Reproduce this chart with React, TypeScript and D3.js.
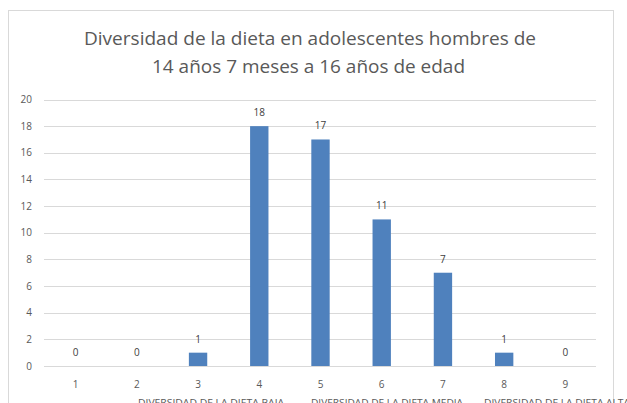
import React from "react";
import * as d3 from "d3";

const categories = ["1", "2", "3", "4", "5", "6", "7", "8", "9"];
const values = [0, 0, 1, 18, 17, 11, 7, 1, 0];
const yTicks = [0, 2, 4, 6, 8, 10, 12, 14, 16, 18, 20];
const groupLabels = [
  "DIVERSIDAD DE LA DIETA BAJA",
  "DIVERSIDAD DE LA DIETA MEDIA",
  "DIVERSIDAD DE LA DIETA ALTA",
];
const titleLines = [
  "Diversidad de la dieta en adolescentes hombres de",
  "14 años 7 meses a 16 años de edad",
];

const W = 627;
const H = 403;
const plot = { left: 45, right: 596, top: 99.5, bottom: 366 };

export default function App() {
  const x = d3
    .scaleBand<string>()
    .domain(categories)
    .range([plot.left, plot.right])
    .paddingInner(0.7)
    .paddingOuter(0.35);
  const y = d3.scaleLinear().domain([0, 20]).range([plot.bottom, plot.top]);
  const step = x.step();
  const center = (c: string) => (x(c) as number) + x.bandwidth() / 2;
  const groupX = d3.scaleLinear().domain([0, 1]).range([138, 311]);
  const font = "Open Sans, 'Noto Sans', sans-serif";
  const txt = "#595959";

  return (
    <svg
      width={W}
      height={H}
      style={{ position: "absolute", left: 0, top: 0, background: "#fff" }}
      fontFamily={font}
    >
      <rect x={0} y={0} width={W} height={H} fill="#fff" />
      <rect x={8.5} y={10.5} width={605} height={400} fill="none" stroke="#d9d9d9" strokeWidth={1} />
      {titleLines.map((t, i) => (
        <text
          key={i}
          x={i === 0 ? 84 : 152}
          y={i === 0 ? 44.5 : 72.5}
          fontSize={18}
          fill={txt}
          textLength={i === 0 ? 452 : 313}
          lengthAdjust="spacingAndGlyphs"
        >
          {t}
        </text>
      ))}
      {yTicks.map((t) => (
        <g key={t}>
          <line
            x1={plot.left - 1}
            x2={plot.right}
            y1={Math.round(y(t)) + 0.5}
            y2={Math.round(y(t)) + 0.5}
            stroke="#d9d9d9"
            strokeWidth={1}
          />
          <text x={32} y={y(t) + 3.5} fontSize={10} fill={txt} textAnchor="end">
            {t}
          </text>
        </g>
      ))}
      {categories.map((c, i) => (
        <g key={c}>
          <rect
            x={x(c)}
            y={y(values[i])}
            width={x.bandwidth()}
            height={plot.bottom - y(values[i])}
            fill="#4f81bd"
          />
          <text
            x={center(c)}
            y={y(values[i]) - 10}
            fontSize={10}
            fill="#404040"
            textAnchor="middle"
          >
            {values[i]}
          </text>
          <text x={center(c)} y={387.5} fontSize={10} fill={txt} textAnchor="middle">
            {c}
          </text>
        </g>
      ))}
      {groupLabels.map((g, i) => (
        <text
          key={g}
          x={groupX(i)}
          y={406}
          fontSize={9}
          fill={txt}
          textLength={i === 1 ? 152 : 146}
          lengthAdjust="spacingAndGlyphs"
        >
          {g}
        </text>
      ))}
    </svg>
  );
}
